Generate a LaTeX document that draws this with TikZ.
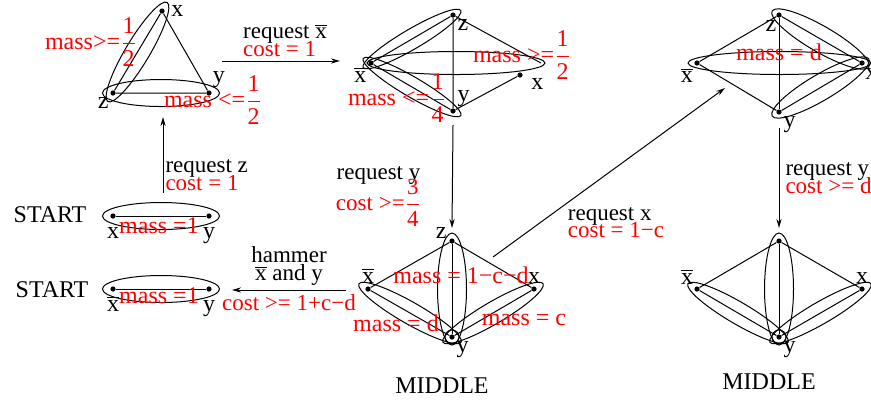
\documentclass[tikz,border=0pt]{standalone}
\usepackage{fontspec}
\setmainfont{Liberation Serif}
\usetikzlibrary{positioning,arrows.meta,calc,shapes.geometric}
\tikzset{
  vtx/.style={circle, fill=black, inner sep=0pt, minimum size=2.6pt},
  lbl/.style={font=\fontsize{12}{13}\selectfont, inner sep=1pt},
  edge/.style={line width=0.5pt},
  hedge/.style={draw, ellipse, inner sep=0pt, line width=0.5pt},
  mass/.style={text=red, font=\fontsize{12}{13}\selectfont, inner sep=0pt},
  state/.style={font=\fontsize{12}{13}\selectfont, inner sep=0pt},
  move/.style={-{Stealth[length=4.5pt, width=2.6pt]}, line width=0.5pt},
  movelabel/.style={font=\fontsize{11.5}{8.7}\selectfont,
    execute at begin node={\lineskiplimit-20pt\relax}, inner sep=1pt},
}
\newcommand{\xb}{\ensuremath{\overline{\mbox{x}}}}
\newcommand{\fr}[2]{\ensuremath{\displaystyle\frac{\mbox{#1}}{\mbox{#2}}}}
% ellipse round two nodes: overhang and minor axis in px
\newcommand{\hyper}[4]{%
  \path let \p1=($(#2)-(#1)$), \n1={atan2(\y1,\x1)},
    \n2={veclen(\x1,\y1)+#3/2} in
    node[hedge, rotate=\n1, minimum width=\n2, minimum height=#4/2]
    (h-#1-#2) at ($(#1)!0.5!(#2)$) {};}

\begin{document}
\begin{tikzpicture}[x=0.5pt, y=-0.5pt]
  \useasboundingbox (0,0) rectangle (871,404);
  % start states
  \node[state] (start1) at (50,215) {START};
  \node[vtx, label={[lbl, label distance=3pt]below:x}] (s1x) at (113,216) {};
  \node[vtx, label={[lbl, label distance=3pt]below:y}] (s1y) at (209,216) {};
  \draw[edge] (s1x) -- (s1y);
  \hyper{s1x}{s1y}{21}{27}
  \node[mass] (ms1) at (159,226) {mass =1};

  \node[state] (start2) at (52,290) {START};
  \node[vtx, label={[lbl, label distance=1pt]below:\xb}] (s2xb) at (113,289) {};
  \node[vtx, label={[lbl, label distance=3pt]below:y}] (s2y) at (209,289) {};
  \draw[edge] (s2xb) -- (s2y);
  \hyper{s2xb}{s2y}{21}{27}
  \node[mass] (ms2) at (159,296) {mass =1};

  % triangle
  \node[vtx, label={[lbl, label distance=2pt]right:x}] (ax) at (162,11) {};
  \node[vtx, label={[lbl]60:y}] (ay) at (209,93) {};
  \node[vtx, label={[lbl]225:z}] (az) at (113,93) {};
  \draw[edge] (ax) -- (az) -- (ay) -- (ax);
  \hyper{ax}{az}{20}{24}
  \hyper{az}{ay}{21}{27}
  \node[mass] (ma1) at (91,42) {mass>=\fr12};
  \node[mass] (ma2) at (213,100) {mass <=\fr12};

  % after request xbar
  \node[vtx, label={[lbl]225:\xb}] (bxb) at (371,63) {};
  \node[vtx, label={[lbl]-45:z}] (bz) at (453,15) {};
  \node[vtx, label={[lbl]45:y}] (by) at (453,111) {};
  \node[vtx, label={[lbl, label distance=3pt]-10:x}] (bx) at (520,75) {};
  \coordinate (bxt) at (541,63);
  \draw[edge] (bxb) -- (bz) -- (by) -- (bxb);
  \draw[edge] (bz) -- (bxt);
  \draw[edge] (by) -- (bx);
  \hyper{bxb}{bz}{18}{20}
  \hyper{bxb}{by}{18}{20}
  \hyper{bxb}{bxt}{8}{23}
  \node[mass] (mb1) at (522,55) {mass >=\fr12};
  \node[mass] (mb2) at (397,98) {mass <=\fr14};

  % top right
  \node[vtx, label={[lbl]235:\xb}] (cxb) at (697,63) {};
  \node[vtx, label={[lbl, label distance=0pt]265:z}] (cz) at (779,15) {};
  \node[vtx, label={[lbl]-45:y}] (cy) at (779,112) {};
  \node[vtx, label={[lbl]-70:x}] (cx) at (862,63) {};
  \draw[edge] (cxb) -- (cz) -- (cx) -- (cy) -- (cxb);
  \draw[edge] (cz) -- (cy);
  \hyper{cxb}{cx}{18}{23}
  \hyper{cz}{cx}{16}{26}
  \hyper{cy}{cx}{16}{26}
  \node[mass] (mc) at (779,52) {mass = d};

  % middle
  \node[vtx, label={[lbl]175:z}] (dz) at (452,241) {};
  \node[vtx, label={[lbl]above:\xb}] (dxb) at (368,289) {};
  \node[vtx, label={[lbl]above:x}] (dx) at (534,289) {};
  \node[vtx, label={[lbl]-40:y}] (dy) at (452,337) {};
  \draw[edge] (dxb) -- (dz) -- (dx) -- (dy) -- (dxb);
  \draw[edge] (dz) -- (dy);
  \hyper{dz}{dy}{16}{29}
  \hyper{dxb}{dy}{21}{22}
  \hyper{dx}{dy}{21}{22}
  \draw[edge] (dy) circle[radius=3.5pt];
  \node[mass] (md1) at (461,275) {mass = 1−c−d};
  \node[mass] (md2) at (396,323) {mass = d};
  \node[mass] (md3) at (524,320) {mass = c};
  \node[state] (mid1) at (442,386) {MIDDLE};

  % bottom right
  \node[vtx] (ez) at (779,241) {};
  \node[vtx, label={[lbl]120:\xb}] (exb) at (697,289) {};
  \node[vtx, label={[lbl]above:x}] (ex) at (862,289) {};
  \node[vtx, label={[lbl]-40:y}] (ey) at (779,337) {};
  \draw[edge] (exb) -- (ez) -- (ex) -- (ey) -- (exb);
  \draw[edge] (ez) -- (ey);
  \hyper{ez}{ey}{16}{29}
  \hyper{exb}{ey}{21}{22}
  \hyper{ex}{ey}{21}{22}
  \draw[edge] (ey) circle[radius=3.5pt];
  \node[state] (mid2) at (769,382) {MIDDLE};

  % moves
  \draw[move] ($(s1x)!0.5!(s1y)+(2,-23)$) -- ($(az)!0.5!(ay)+(2,24)$)
    node[movelabel, pos=0, anchor=south west, align=left]
    {request z\\\textcolor{red}{cost = 1}};
  \draw[move] ($(ay)+(13,-32)$) -- ($(bxb)+(-31,-2)$)
    node[movelabel, midway, above=1pt, xshift=2pt, align=left]
    {request \xb\\\textcolor{red}{cost = 1}};
  \draw[move] ($(by)+(0,14)$) -- ($(dz)+(0,-13)$)
    node[movelabel, midway, xshift=-37pt, yshift=-10pt, align=center]
    {request y\\[7pt]\textcolor{red}{cost >=\fr34}};
  \draw[move] ($(dz)+(41,16)$) -- ($(cxb)+(28,25)$)
    node[movelabel, midway, xshift=3.5pt, yshift=-25pt, align=left]
    {request x\\\textcolor{red}{cost = 1−c}};
  \draw[move] ($(cy)+(0,16)$) -- ($(ez)+(0,-13)$)
    node[movelabel, midway, right=2pt, align=left]
    {request y\\\textcolor{red}{cost >= d}};
  \draw[move] ($(dxb)+(-22,1)$) -- ($(s2y)+(23,1)$)
    node[movelabel, midway, above=1pt, align=center] {hammer\\[0.5pt]\xb{} and y}
    node[movelabel, midway, below=1pt, text=red] {cost >= 1+c−d};
\end{tikzpicture}
\end{document}
